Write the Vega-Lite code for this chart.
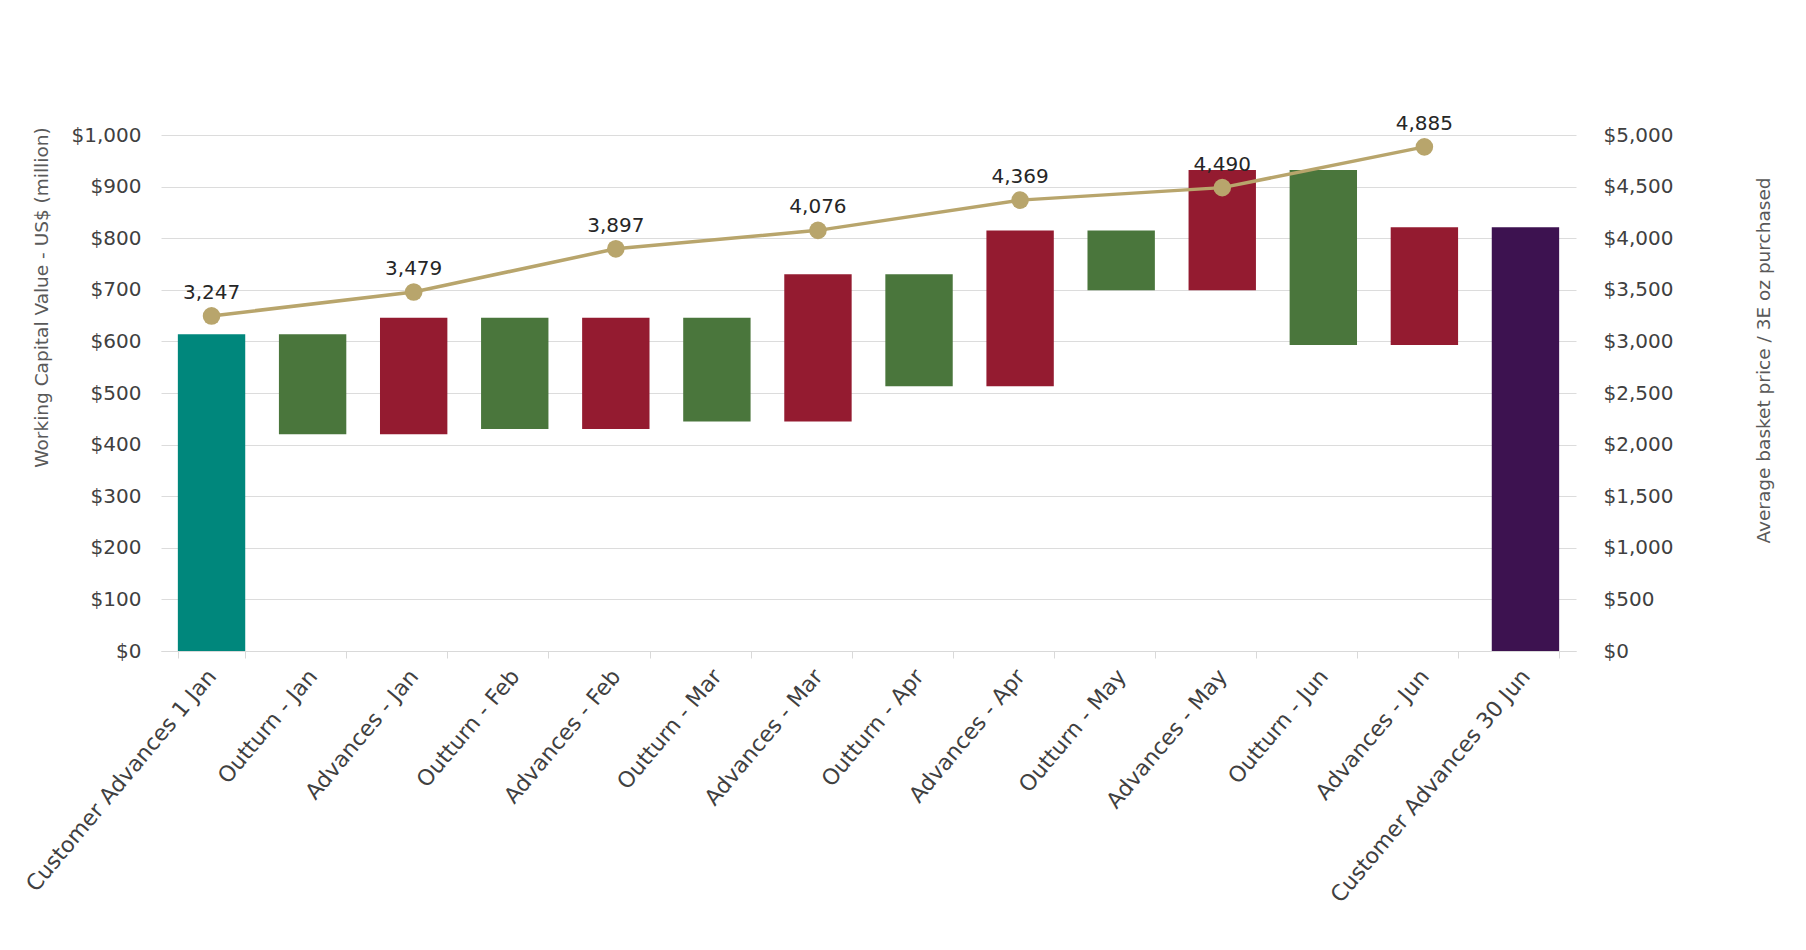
{
  "$schema": "https://vega.github.io/schema/vega-lite/v6.json",
  "autosize": "none",
  "width": 1415,
  "height": 516,
  "padding": {"left": 161, "top": 135, "right": 230, "bottom": 299},
  "background": "white",
  "config": {
    "font": "DejaVu Sans",
    "view": {"stroke": null},
    "axis": {"labelColor": "#404040", "titleColor": "#595959", "titleFontWeight": "normal"}
  },
  "data": {
    "values": [
      {"cat": "Customer Advances 1 Jan", "lo": 0, "hi": 614, "kind": "start", "price": 3247},
      {"cat": "Outturn - Jan", "lo": 420, "hi": 614, "kind": "outturn", "price": null},
      {"cat": "Advances - Jan", "lo": 420, "hi": 646, "kind": "advance", "price": 3479},
      {"cat": "Outturn - Feb", "lo": 430, "hi": 646, "kind": "outturn", "price": null},
      {"cat": "Advances - Feb", "lo": 430, "hi": 646, "kind": "advance", "price": 3897},
      {"cat": "Outturn - Mar", "lo": 445, "hi": 646, "kind": "outturn", "price": null},
      {"cat": "Advances - Mar", "lo": 445, "hi": 730, "kind": "advance", "price": 4076},
      {"cat": "Outturn - Apr", "lo": 513, "hi": 730, "kind": "outturn", "price": null},
      {"cat": "Advances - Apr", "lo": 513, "hi": 815, "kind": "advance", "price": 4369},
      {"cat": "Outturn - May", "lo": 699, "hi": 815, "kind": "outturn", "price": null},
      {"cat": "Advances - May", "lo": 699, "hi": 932, "kind": "advance", "price": 4490},
      {"cat": "Outturn - Jun", "lo": 593, "hi": 932, "kind": "outturn", "price": null},
      {"cat": "Advances - Jun", "lo": 593, "hi": 821, "kind": "advance", "price": 4885},
      {"cat": "Customer Advances 30 Jun", "lo": 0, "hi": 821, "kind": "end", "price": null}
    ]
  },
  "encoding": {
    "x": {
      "field": "cat",
      "type": "nominal",
      "sort": null,
      "scale": {"paddingInner": 0.3333, "paddingOuter": 0.1667},
      "axis": {
        "title": null,
        "labelAngle": -50,
        "labelAlign": "right",
        "labelBaseline": "middle",
        "labelFontSize": 22,
        "labelPadding": 14,
        "labelLimit": 400,
        "tickBand": "extent",
        "tickColor": "#d9d9d9",
        "tickSize": 7,
        "domainColor": "#d9d9d9",
        "grid": false
      }
    }
  },
  "layer": [
    {
      "mark": {"type": "bar"},
      "encoding": {
        "y": {
          "field": "lo",
          "type": "quantitative",
          "scale": {"domain": [0, 1000], "nice": false},
          "axis": {
            "values": [0, 100, 200, 300, 400, 500, 600, 700, 800, 900, 1000],
            "format": "$,.0f",
            "labelFontSize": 20,
            "labelPadding": 20,
            "ticks": false,
            "domain": false,
            "grid": true,
            "gridColor": "#dcdcdc",
            "title": "Working Capital Value - US$ (million)",
            "titleFontSize": 18.5,
            "titleAngle": -90,
            "titleAlign": "center",
            "titleBaseline": "middle",
            "titleX": -120,
            "titleY": 162
          }
        },
        "y2": {"field": "hi"},
        "color": {
          "field": "kind",
          "type": "nominal",
          "scale": {
            "domain": ["start", "outturn", "advance", "end"],
            "range": ["#00877C", "#4A763C", "#941B30", "#3D1250"]
          },
          "legend": null
        }
      }
    },
    {
      "transform": [{"filter": {"field": "price", "valid": true}}],
      "encoding": {
        "y": {
          "field": "price",
          "type": "quantitative",
          "scale": {"domain": [0, 5000], "nice": false},
          "axis": {
            "orient": "right",
            "values": [0, 500, 1000, 1500, 2000, 2500, 3000, 3500, 4000, 4500, 5000],
            "format": "$,.0f",
            "labelFontSize": 20,
            "labelPadding": 27,
            "ticks": false,
            "domain": false,
            "grid": false,
            "title": "Average basket price / 3E oz  purchased",
            "titleFontSize": 18.5,
            "titleAngle": -90,
            "titleAlign": "center",
            "titleBaseline": "middle",
            "titleX": 187,
            "titleY": 225
          }
        }
      },
      "layer": [
        {"mark": {"type": "line", "color": "#B8A56C", "strokeWidth": 3.5}},
        {"mark": {"type": "point", "filled": true, "opacity": 1, "color": "#B8A56C", "size": 310}},
        {
          "mark": {"type": "text", "baseline": "alphabetic", "dy": -17, "fontSize": 20, "color": "#262626"},
          "encoding": {"text": {"field": "price", "type": "quantitative", "format": ",.0f"}}
        }
      ]
    }
  ],
  "resolve": {"scale": {"y": "independent"}}
}
